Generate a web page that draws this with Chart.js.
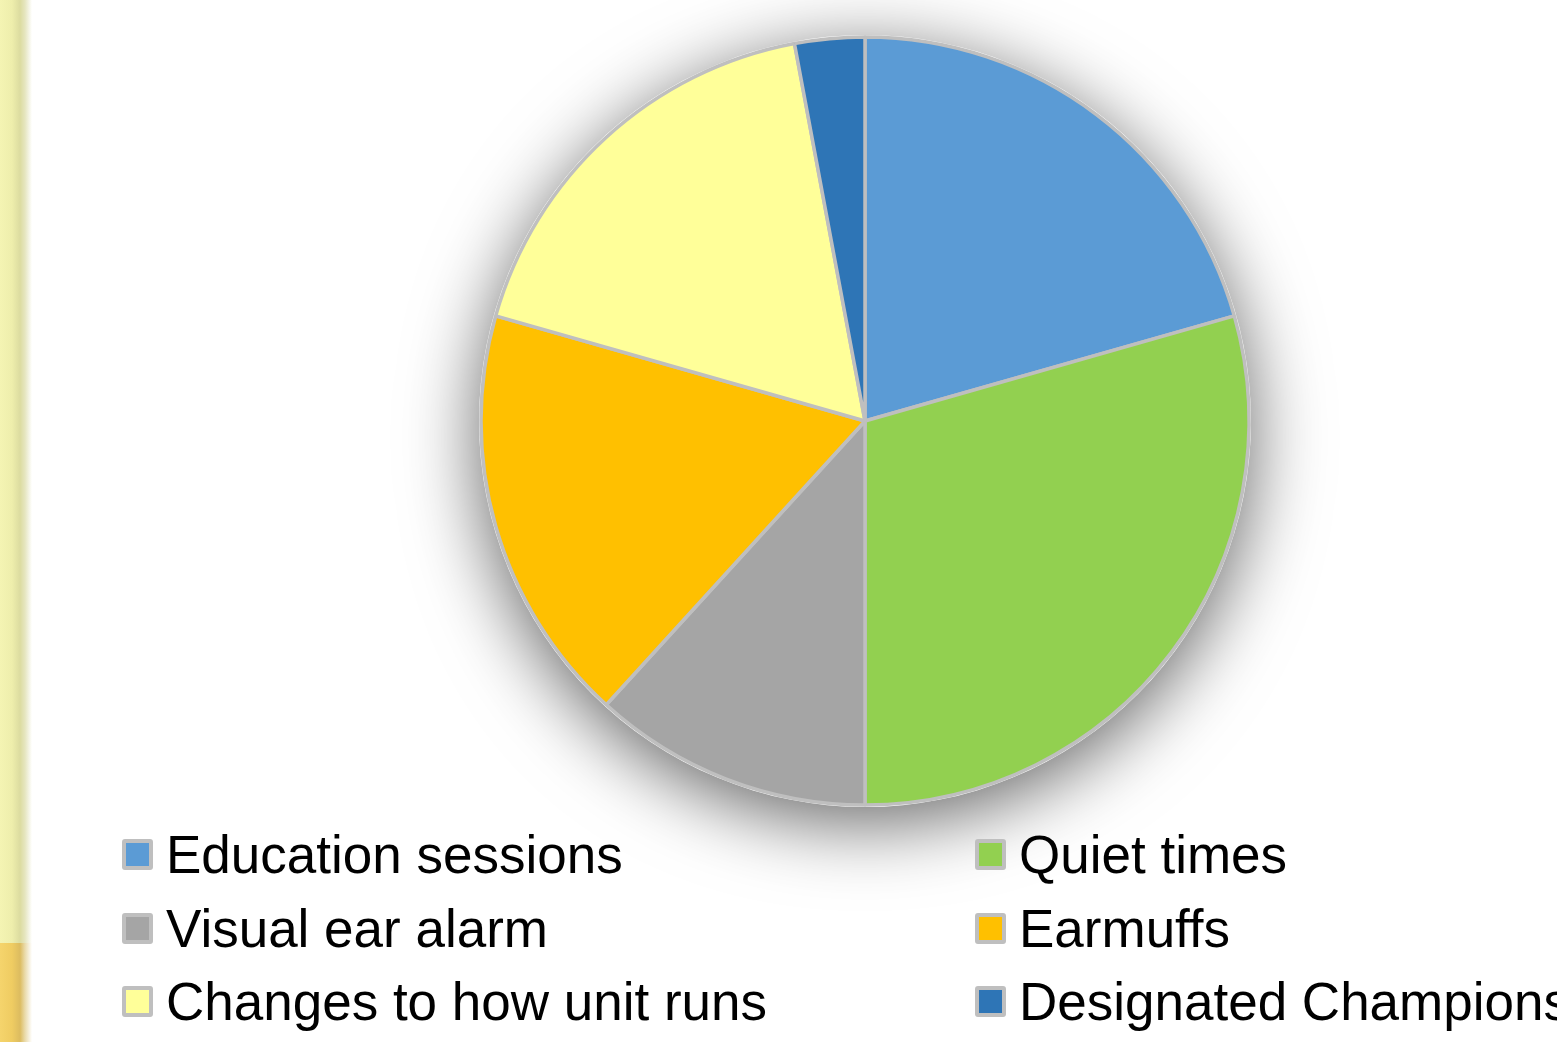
<!DOCTYPE html>
<html>
<head>
<meta charset="utf-8">
<script src="https://cdn.jsdelivr.net/npm/chart.js@4/dist/chart.umd.min.js"></script>
<style>
    html, body {
        margin: 0;
        padding: 0;
        width: 1557px;
        height: 1042px;
        overflow: hidden;
        background: #ffffff;
        font-family: "Liberation Sans", Arial, sans-serif;
    }
    #page {
        position: relative;
        width: 1557px;
        height: 1042px;
        overflow: hidden;
    }
    /* bande jaune a gauche */
    #strip {
        position: absolute;
        left: 0;
        top: 0;
        width: 34px;
        height: 943px;
        background: linear-gradient(to right, #f4f4b3 0px, #eeeeac 12px, #dcdca0 20px, #e6e6c0 25px, rgba(255,255,255,0) 32px);
    }
    #strip2 {
        position: absolute;
        left: 0;
        top: 943px;
        width: 34px;
        height: 99px;
        background: linear-gradient(to right, #f5d46c 0px, #efcc62 12px, #dcbc60 20px, #eadbab 25px, rgba(255,255,255,0) 32px);
    }
    #graphCanvas {
        position: absolute;
        left: 0;
        top: 0;
    }
    #legende {
        position: absolute;
        left: 122px;
        top: 818px;
        display: grid;
        grid-template-columns: 853px 853px;
        grid-auto-rows: 73.5px;
    }
    .item {
        display: flex;
        align-items: center;
        white-space: nowrap;
        font-size: 53px;
        color: #000;
    }
    .box {
        width: 23px;
        height: 23px;
        border: 4px solid #bfbfbf;
        border-radius: 3px;
        margin-right: 13px;
        flex: none;
    }
</style>
</head>
<body>
<div id="page">
    <div id="strip"></div>
    <div id="strip2"></div>
    <canvas id="graphCanvas" width="1557" height="1042"></canvas>
    <div id="legende"></div>
</div>
<script>
//--------------------- DONNEES -------------------------
const categories = ['Education sessions', 'Quiet times', 'Visual ear alarm', 'Earmuffs', 'Changes to how unit runs', 'Designated Champions'];
const reponses = [7, 10, 4, 6, 6, 1];
const couleurs = ['#5B9BD5', '#92D050', '#A5A5A5', '#FFC000', '#FFFF99', '#2E75B6'];

// ombre sous le camembert
const ombre = {
    id: 'ombre',
    beforeDatasetsDraw(chart) {
        const arc = chart.getDatasetMeta(0).data[0];
        if (!arc) return;
        const ctx = chart.ctx;
        ctx.save();
        ctx.shadowColor = 'rgba(0,0,0,0.6)';
        ctx.shadowBlur = 75;
        ctx.shadowOffsetX = 0;
        ctx.shadowOffsetY = 16;
        ctx.fillStyle = '#ffffff';
        ctx.beginPath();
        ctx.arc(arc.x, arc.y, arc.outerRadius + 2, 0, Math.PI * 2);
        ctx.fill();
        ctx.restore();
    }
};

// SETUP BLOCK
const data = {
    labels: categories,
    datasets: [{
        data: reponses,
        backgroundColor: couleurs,
        borderColor: '#BFBFBF',
        borderWidth: 3.5
    }]
};

// CONFIG BLOCK
const config = {
    type: 'pie',
    data,
    options: {
        responsive: false,
        animation: false,
        radius: 384,
        layout: {
            padding: { left: 173, right: 0, top: 0, bottom: 200 }
        },
        plugins: {
            legend: { display: false },
            tooltip: { enabled: false }
        }
    },
    plugins: [ombre]
};

// RENDER BLOCK
const graphCanvas = new Chart(
    document.getElementById('graphCanvas').getContext('2d'),
    config
);

//--------------------- LEGENDE -------------------------
const legende = document.getElementById('legende');
categories.forEach(function (nom, i) {
    const item = document.createElement('div');
    item.className = 'item';
    const box = document.createElement('span');
    box.className = 'box';
    box.style.background = couleurs[i];
    const txt = document.createElement('span');
    txt.textContent = nom;
    item.appendChild(box);
    item.appendChild(txt);
    legende.appendChild(item);
});
</script>
</body>
</html>
